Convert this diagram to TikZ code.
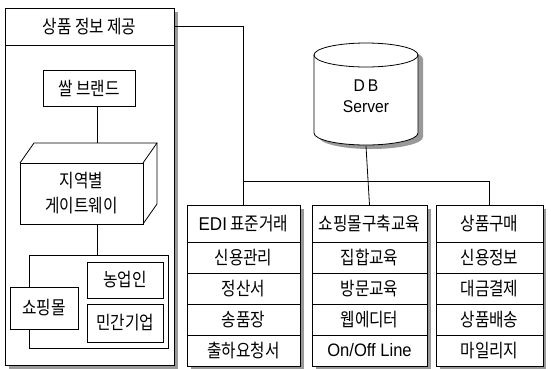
\documentclass[tikz,border=0pt]{standalone}
\usepackage{fontspec}
\setmainfont[FakeStretch=0.85]{Noto Sans CJK KR}
\newfontfamily\latfont[FakeStretch=0.92]{Liberation Sans}
\usetikzlibrary{positioning,calc,backgrounds}

\tikzset{
  wire/.style={line width=0.8pt},
  box/.style={draw, wire, fill=white, inner sep=0pt, outer sep=0pt, font=\fontsize{18.5}{22}\selectfont},
  cell/.style={box, minimum height=31pt},
  shade/.style={fill=black!40, draw=none},
}

\begin{document}
\begin{tikzpicture}[x=1pt, y=-1pt]
\useasboundingbox (0,0) rectangle (551,368);

% left panel
\node[box, minimum width=169pt, minimum height=357pt] (panel) at (89.5,186.5) {};
\node[box, minimum width=169pt, minimum height=37pt, anchor=north] (header) at (panel.north) {상품 정보 제공};
\node[box, minimum width=92pt, minimum height=36pt] (brand) at (89,88) {쌀 브랜드};
\node[box, minimum width=123pt, minimum height=61pt, align=center, font=\fontsize{18.5}{25}\selectfont] (gate) at (81.5,193.5) {지역별\\게이트웨이};
\draw[wire] (gate.north west) -- ++(14,-20) -- ++(123,0) coordinate (gback) -- (gate.north east);
\draw[wire] (gback) -- ++(0,61) -- (gate.south east);
\coordinate (gtop) at (97,143);
\draw[wire] (brand.south -| gtop) -- (gtop);
\node[box, minimum width=139pt, minimum height=93pt] (members) at (98.5,301.5) {};
\draw[wire] (gate.south -| gtop) -- (members.north -| gtop);
\node[box, minimum width=68pt, minimum height=42pt] (shop) at (44,308) {쇼핑몰};
\node[box, minimum width=76pt, minimum height=36pt] (farmer) at (125,280) {농업인};
\node[box, minimum width=76pt, minimum height=38pt] (company) at (125,323) {민간기업};

% DB server
\fill[shade] (319,59) -- (319,137) arc[start angle=180, end angle=0, x radius=52, y radius=12] -- (423,59) arc[start angle=0, end angle=-180, x radius=52, y radius=12] -- cycle;
\draw[wire, fill=white] (314,55) -- (314,133) arc[start angle=180, end angle=0, x radius=52, y radius=12] -- (418,55) arc[start angle=0, end angle=-180, x radius=52, y radius=12] -- cycle;
\draw[wire] (314,55) arc[start angle=180, end angle=0, x radius=52, y radius=12];
\node[inner sep=0pt, minimum width=104pt, minimum height=100pt, align=center, font=\latfont\fontsize{17}{21}\selectfont] (db) at (366,96) {D\hspace{3pt}B\\Server};

% columns
\node[cell, minimum width=113pt, minimum height=37pt, anchor=north] (edi) at (243.5,205) {{\latfont EDI} 표준거래};
\foreach \y/\name/\txt in {257.5/credit/신용관리, 288.5/settle/정산서, 319.5/invoice/송품장, 350.5/shipreq/출하요청서}{\node[cell, minimum width=113pt] (\name) at (243.5,\y) {\txt};}
\node[cell, minimum width=115pt, minimum height=37pt, anchor=north] (course) at (369.5,205) {쇼핑몰구축교육};
\foreach \y/\name/\txt in {257.5/groupedu/집합교육, 288.5/visit/방문교육, 319.5/webedit/웹에디터, 350.5/online/{{\latfont\fontsize{18}{20}\selectfont On/Off Line}}}{\node[cell, minimum width=115pt] (\name) at (369.5,\y) {\txt};}
\node[cell, minimum width=107pt, minimum height=37pt, anchor=north] (buy) at (489.5,205) {상품구매};
\foreach \y/\name/\txt in {257.5/cinfo/신용정보, 288.5/pay/대금결제, 319.5/deliver/상품배송, 350.5/mileage/마일리지}{\node[cell, minimum width=107pt] (\name) at (489.5,\y) {\txt};}

\begin{scope}[on background layer]
  \fill[shade] ($(panel.north west)+(4,4)$) rectangle ($(panel.south east)+(4,4)$);
  \fill[shade] ($(edi.north west)+(4,4)$) rectangle ($(shipreq.south east)+(4,3)$);
  \fill[shade] ($(course.north west)+(4,4)$) rectangle ($(online.south east)+(4,3)$);
  \fill[shade] ($(buy.north west)+(4,4)$) rectangle ($(mileage.south east)+(3,3)$);
\end{scope}

% connectors
\coordinate (bus) at (0,181);
\draw[wire] (header.east) -| (edi.north);
\draw[wire] (db.south) -- (course.north);
\draw[wire] (edi.north |- bus) -| (buy.north);
\end{tikzpicture}
\end{document}
